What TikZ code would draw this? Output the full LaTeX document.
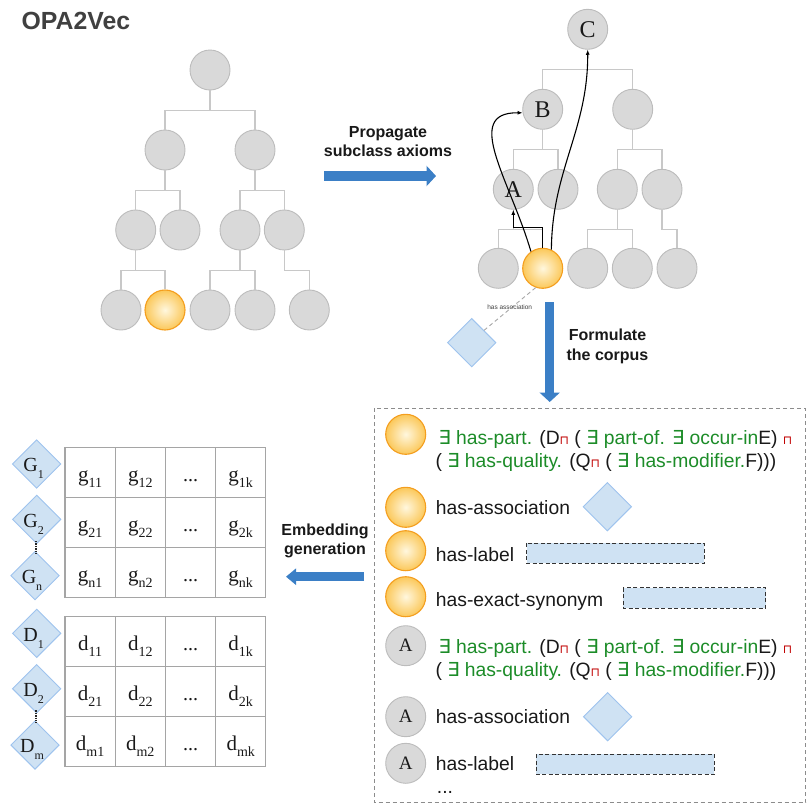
\documentclass[tikz,border=0pt]{standalone}
\usepackage{fontspec}
\setmainfont{Liberation Serif}
\newfontfamily\arial{Liberation Sans}
\newfontfamily\dejavu{DejaVu Sans}
\usetikzlibrary{shapes.geometric,arrows.meta,calc}
\definecolor{cgray}{RGB}{217,217,217}
\definecolor{cgrayb}{RGB}{188,188,188}
\definecolor{treeline}{RGB}{200,200,200}
\definecolor{orin}{RGB}{255,247,222}
\definecolor{orout}{RGB}{251,200,90}
\definecolor{orb}{RGB}{244,158,30}
\definecolor{bluefill}{RGB}{207,226,243}
\definecolor{blueb}{RGB}{158,195,238}
\definecolor{arrblue}{RGB}{59,127,198}
\definecolor{tgreen}{RGB}{28,140,40}
\definecolor{tred}{RGB}{192,0,0}
\definecolor{titlec}{RGB}{64,64,64}
\definecolor{gridc}{RGB}{165,165,165}
\definecolor{txt}{RGB}{25,25,25}
\newcommand{\EE}{{\dejavu ∃}}
\newcommand{\MM}{\textcolor{tred}{\dejavu\fontsize{12}{12}\selectfont ⊓}}
\newcommand{\ms}[2]{{\fontsize{21}{21}\selectfont #1}\raisebox{-6.5pt}{\fontsize{14}{14}\selectfont #2}}
\newcommand{\dl}[2]{{\fontsize{20}{20}\selectfont #1}\raisebox{-7pt}{\fontsize{12}{12}\selectfont #2}}
\tikzset{
  gc/.style={circle, draw=cgrayb, fill=cgray, line width=0.9pt, minimum size=40pt, inner sep=0pt, font=\fontsize{24}{24}\selectfont, text=txt},
  gcs/.style={gc, font=\fontsize{19}{19}\selectfont},
  oc/.style={circle, draw=orb, line width=1.1pt, minimum size=40pt, inner sep=0pt, inner color=orin, outer color=orout},
  tree/.style={draw=treeline, line width=1.3pt},
  blk/.style={draw=black, line width=1.1pt, -{Latex[length=5pt,width=4pt]}},
  bd/.style={diamond, draw=blueb, fill=bluefill, line width=0.9pt, minimum width=48.6pt, minimum height=48.6pt, inner sep=0pt},
  bigarrow/.style={draw=arrblue, line width=9.5pt, -{Triangle[length=9.5pt,width=20pt]}},
  lbl/.style={anchor=base, inner sep=0pt, font=\arial\bfseries\fontsize{16}{16}\selectfont, text=txt},
  ct/.style={anchor=base west, inner sep=0pt, font=\arial\fontsize{19.3}{19.3}\selectfont, text=txt},
  brect/.style={draw=black!80, fill=bluefill, line width=1pt, dash pattern=on 4pt off 2.5pt},
  cell/.style={rectangle, draw=gridc, line width=1.3pt, minimum width=50.2pt, minimum height=50pt, inner sep=0pt},
  ctext/.style={anchor=base, inner sep=0pt, text=txt},
  vdots/.style={draw=black!85, line width=1.6pt, dash pattern=on 1.4pt off 1pt},
}
\begin{document}
\begin{tikzpicture}[x=1pt,y=-1pt]
\useasboundingbox (0,0) rectangle (809,806);

% title
\node[anchor=base west, inner sep=0pt, font=\arial\bfseries\fontsize{24.8}{24.8}\selectfont, text=titlec] (title) at (21.5,29.3) {OPA2Vec};

% ---------- left tree ----------
\node[gc] (l0) at (210,70) {};
\node[gc] (l1a) at (165,150) {};
\node[gc] (l1b) at (255,150) {};
\node[gc] (l2a) at (135.7,230) {};
\node[gc] (l2b) at (180,230) {};
\node[gc] (l2c) at (240,230) {};
\node[gc] (l2d) at (284.3,230) {};
\node[gc] (l3a) at (121,310) {};
\node[oc] (l3b) at (165,310) {};
\node[gc] (l3c) at (210,310) {};
\node[gc] (l3d) at (255,310) {};
\node[gc] (l3e) at (309.3,310) {};
\draw[tree] (l0.south) -- ++(0,20) -| (l1a.north);
\draw[tree] (l0.south) ++(0,20) -| (l1b.north);
\draw[tree] (l1a.south) -- ++(0,20) -| (l2a.north);
\draw[tree] (l1a.south) ++(0,20) -| (l2b.north);
\draw[tree] (l1b.south) -- ++(0,20) -| (l2c.north);
\draw[tree] (l1b.south) ++(0,20) -| (l2d.north);
\draw[tree] (l2a.south) -- ++(0,20) -| (l3a.north);
\draw[tree] (l2a.south) ++(0,20) -| (l3b.north);
\draw[tree] (l2c.south) -- ++(0,20) -| (l3c.north);
\draw[tree] (l2c.south) ++(0,20) -| (l3d.north);
\draw[tree] (l2d.south) -- ++(0,20) -| (l3e.north);

% ---------- propagate arrow ----------
\coordinate (pa1) at (324.3,176);
\coordinate (pa2) at (436,176);
\draw[bigarrow] (pa1) -- (pa2);
\node[lbl] (prop1) at (388,137.3) {Propagate};
\node[lbl] (prop2) at (388,156.7) {subclass axioms};

% ---------- right tree ----------
\node[gc] (C) at (587.7,29.3) {C};
\node[gc] (B) at (542.7,109.3) {B};
\node[gc] (r1b) at (632.7,109.3) {};
\node[gc] (A) at (513.3,189.3) {A};
\node[gc] (r2b) at (558,189.3) {};
\node[gc] (r2c) at (617.3,189.3) {};
\node[gc] (r2d) at (662,189.3) {};
\node[gc] (r3a) at (498.3,268.3) {};
\node[oc] (r3b) at (542.7,268.3) {};
\node[gc] (r3c) at (587.7,268.3) {};
\node[gc] (r3d) at (632.3,268.3) {};
\node[gc] (r3e) at (677,268.3) {};
\draw[tree] (C.south) -- ++(0,20) -| (B.north);
\draw[tree] (C.south) ++(0,20) -| (r1b.north);
\draw[tree] (B.south) -- ++(0,20) -| (A.north);
\draw[tree] (B.south) ++(0,20) -| (r2b.north);
\draw[tree] (r1b.south) -- ++(0,20) -| (r2c.north);
\draw[tree] (r1b.south) ++(0,20) -| (r2d.north);
\draw[tree] (A.south) -- ++(0,20) -| (r3a.north);
\draw[tree] (A.south) ++(0,20) -| (r3b.north);
\draw[tree] (r2c.south) -- ++(0,20) -| (r3c.north);
\draw[tree] (r2c.south) ++(0,20) -| (r3d.north);
\draw[tree] (r2d.south) -- ++(0,20) -| (r3e.north);

\draw[blk] (r3b.north) -- ++(0,-20) -| (A.south);
\draw[blk] (r3b.125) .. controls (510,180) and (462,112) .. (B.190);
\draw[blk] (r3b.65) .. controls (552,170) and (588,130) .. (C.south);

% association
\node[bd] (dia0) at (471.7,342.7) {};
\draw[draw=black!35, line width=0.9pt, dash pattern=on 4pt off 3pt] (r3b.250) -- (dia0.north east);
\node[inner sep=0pt, font=\arial\fontsize{6.5}{7}\selectfont, text=black!75] (hasassoc) at (509.7,306.7) {has association};

% formulate arrow
\coordinate (fa1) at (549.7,302);
\coordinate (fa2) at (549.7,402);
\draw[bigarrow] (fa1) -- (fa2);
\node[lbl] (form1) at (607.5,340) {Formulate};
\node[lbl] (form2) at (607.5,360) {the corpus};

% ---------- corpus box ----------
\draw[draw=black!45, line width=1pt, dash pattern=on 4pt off 3pt] (374,408.3) rectangle (805.7,802.7);

\node[oc] (o1) at (405.7,434.3) {};
\node[ct] (t1a) at (438.3,444.3) {\textcolor{tgreen}{\EE\ has-part.} (D\MM\ ( \textcolor{tgreen}{\EE\ part-of. \EE\ occur-in}E) \MM};
\node[ct] (t1b) at (435.3,467.7) {( \textcolor{tgreen}{\EE\ has-quality.} (Q\MM\ ( \textcolor{tgreen}{\EE\ has-modifier.}F)))};

\node[oc] (o2) at (405.7,507.3) {};
\node[ct] (t2) at (435.7,514) {has-association};
\node[bd] (dia1) at (607.3,506.7) {};

\node[oc] (o3) at (405.7,550.7) {};
\node[ct] (t3) at (435.7,561) {has-label};
\draw[brect] (526.7,543.3) rectangle (704.3,563.3);

\node[oc] (o4) at (405.7,596.7) {};
\node[ct] (t4) at (435.7,606.7) {has-exact-synonym};
\draw[brect] (623.3,587.7) rectangle (765.7,608.3);

\node[gcs] (a1) at (405.7,645.7) {A};
\node[ct] (t5a) at (438.3,653.3) {\textcolor{tgreen}{\EE\ has-part.} (D\MM\ ( \textcolor{tgreen}{\EE\ part-of. \EE\ occur-in}E) \MM};
\node[ct] (t5b) at (435.3,676) {( \textcolor{tgreen}{\EE\ has-quality.} (Q\MM\ ( \textcolor{tgreen}{\EE\ has-modifier.}F)))};

\node[gcs] (a2) at (405.7,716.7) {A};
\node[ct] (t6) at (435.7,723.3) {has-association};
\node[bd] (dia2) at (607.7,716.7) {};

\node[gcs] (a3) at (405.7,763.3) {A};
\node[ct] (t7) at (435.7,770) {has-label};
\draw[brect] (536,754.3) rectangle (714.3,774.3);
\node[ct] (t8) at (436.7,793) {...};

% ---------- embedding arrow ----------
\coordinate (ea1) at (364,576.7);
\coordinate (ea2) at (286,576.7);
\draw[draw=arrblue, line width=8.5pt, -{Triangle[length=10pt,width=16pt]}] (ea1) -- (ea2);
\node[lbl] (emb1) at (325,535) {Embedding};
\node[lbl] (emb2) at (325,554) {generation};

% ---------- matrices ----------
\foreach \r/\y/\a in {1/472.7/1, 2/522.7/2, 3/572.7/n} {
  \foreach \c/\x/\b in {1/90.1/1, 2/140.3/2, 4/240.7/k} {
    \node[cell] (g\r\c) at (\x,\y) {};
    \node[ctext] (gt\r\c) at ([yshift=-8.5pt]g\r\c.center) {\ms{g}{\a\b}};
  }
  \node[cell] (g\r3) at (190.5,\y) {};
  \node[ctext, font=\fontsize{20}{20}\selectfont] (gt\r3) at ([yshift=-8.5pt]g\r3.center) {...};
}
\foreach \r/\y/\a in {1/641.7/1, 2/691.7/2, 3/741.7/m} {
  \foreach \c/\x/\b in {1/90.1/1, 2/140.3/2, 4/240.7/k} {
    \node[cell] (d\r\c) at (\x,\y) {};
    \node[ctext] (dt\r\c) at ([yshift=-8.5pt]d\r\c.center) {\ms{d}{\a\b}};
  }
  \node[cell] (d\r3) at (190.5,\y) {};
  \node[ctext, font=\fontsize{20}{20}\selectfont] (dt\r3) at ([yshift=-8.5pt]d\r3.center) {...};
}

% diamonds
\node[bd] (G1) at (36.7,464) {};
\node[bd] (G2) at (36.7,519.3) {};
\node[bd] (Gn) at (35,575.7) {};
\node[bd] (D1) at (36.7,633.3) {};
\node[bd] (D2) at (36.7,688.7) {};
\node[bd] (Dm) at (35,745) {};
\draw[vdots] ([xshift=-0.5pt,yshift=3pt]G2.south) -- ([xshift=-0.5pt,yshift=-3pt]G2.south |- Gn.north);
\draw[vdots] ([xshift=-0.5pt,yshift=3pt]D2.south) -- ([xshift=-0.5pt,yshift=-3pt]D2.south |- Dm.north);
\node[ctext] (G1t) at ([xshift=-3pt,yshift=-7.7pt]G1.center) {\dl{G}{1}};
\node[ctext] (G2t) at ([xshift=-3pt,yshift=-7.7pt]G2.center) {\dl{G}{2}};
\node[ctext] (Gnt) at ([xshift=-3pt,yshift=-7.7pt]Gn.center) {\dl{G}{n}};
\node[ctext] (D1t) at ([xshift=-3pt,yshift=-7.7pt]D1.center) {\dl{D}{1}};
\node[ctext] (D2t) at ([xshift=-3pt,yshift=-7.7pt]D2.center) {\dl{D}{2}};
\node[ctext] (Dmt) at ([xshift=-3pt,yshift=-7.7pt]Dm.center) {\dl{D}{m}};
\end{tikzpicture}
\end{document}
